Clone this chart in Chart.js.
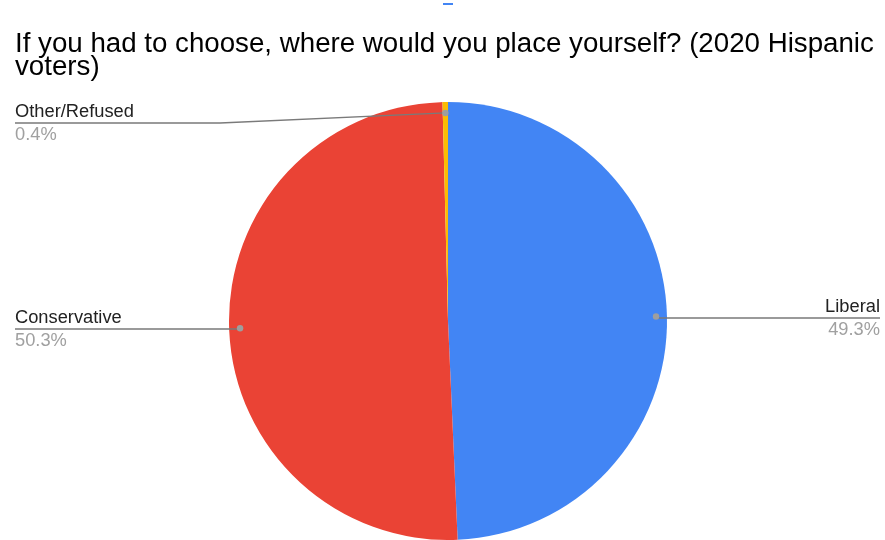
<!DOCTYPE html>
<html>
<head>
<meta charset="utf-8">
<script src="https://cdn.jsdelivr.net/npm/chart.js@4"></script>
<style>
  html, body { margin: 0; padding: 0; background: #fff; }
  #wrap { position: relative; width: 885px; height: 540px; }
  #tab { position: absolute; left: 443px; top: 3px; width: 10px; height: 2px; background: #4285f4; }
</style>
</head>
<body>
<div id="wrap">
  <canvas id="pieChart" width="885" height="540"></canvas>
  <div id="tab"></div>
</div>
<script>
// chart data
const titleLines = ["If you had to choose, where would you place yourself? (2020 Hispanic", "voters)"];
const categories = ["Liberal", "Conservative", "Other/Refused"];
const shares = [49.3, 50.3, 0.4];
const sliceColors = ["#4285F4", "#EA4335", "#FBBC04"];

const FONT = '"Liberation Sans", Arial, sans-serif';

// where each label goes: side of the chart and the y of its leader line
const labelSpots = [
  { side: "right", lineY: 318 },
  { side: "left", lineY: 329 },
  { side: "left", lineY: 123 },
];

const calloutPlugin = {
  id: "callouts",
  afterDraw(chart) {
    const ctx = chart.ctx;
    const meta = chart.getDatasetMeta(0);
    const W = chart.width;

    ctx.save();
    // title
    ctx.fillStyle = "#000";
    ctx.font = "27.7px " + FONT;
    ctx.textAlign = "left";
    ctx.textBaseline = "alphabetic";
    titleLines.forEach((t, i) => ctx.fillText(t, 15, 52 + i * 23.3));

    meta.data.forEach((arc, i) => {
      const p = arc.getProps(["x", "y", "startAngle", "endAngle", "outerRadius"], true);
      const mid = (p.startAngle + p.endAngle) / 2;
      const r = p.outerRadius * 0.95;
      const dx = p.x + Math.cos(mid) * r;
      const dy = p.y + Math.sin(mid) * r;
      const spot = labelSpots[i];
      const endX = spot.side === "right" ? W - 5 : 15;

      // leader line (with a bend when the dot is off the label's row)
      ctx.strokeStyle = "#7a7a7a";
      ctx.lineWidth = 1.3;
      ctx.beginPath();
      ctx.moveTo(dx, dy);
      if (Math.abs(dy - spot.lineY) > 2) {
        ctx.lineTo(220, spot.lineY);
      } else {
        ctx.lineTo(dx, spot.lineY);
      }
      ctx.lineTo(endX, spot.lineY);
      ctx.stroke();

      ctx.fillStyle = "#9e9e9e";
      ctx.beginPath();
      ctx.arc(dx, dy, 3.2, 0, Math.PI * 2);
      ctx.fill();

      ctx.textAlign = spot.side === "right" ? "right" : "left";
      ctx.font = "18.3px " + FONT;
      ctx.fillStyle = "#222";
      ctx.fillText(categories[i], endX, spot.lineY - 6);
      ctx.fillStyle = "#a0a0a0";
      ctx.fillText(shares[i].toFixed(1) + "%", endX, spot.lineY + 17.3);
    });
    ctx.restore();
  },
};

new Chart(document.getElementById("pieChart"), {
  type: "pie",
  data: {
    labels: categories,
    datasets: [
      {
        data: shares,
        backgroundColor: sliceColors,
        borderWidth: 0,
      },
    ],
  },
  options: {
    responsive: false,
    animation: false,
    layout: { padding: { left: 229, right: 218, top: 102, bottom: 0 } },
    plugins: {
      legend: { display: false },
      tooltip: { enabled: false },
      title: { display: false },
    },
  },
  plugins: [calloutPlugin],
});
</script>
</body>
</html>
